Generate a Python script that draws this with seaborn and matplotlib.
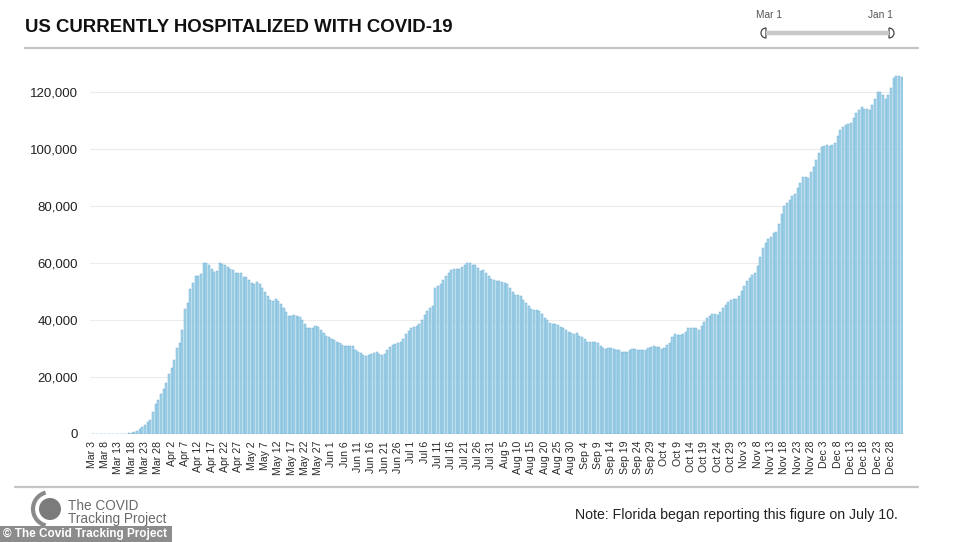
import numpy as np
import pandas as pd
import matplotlib
matplotlib.use("Agg")
import matplotlib.pyplot as plt
import matplotlib.patches as mpatches
import seaborn as sns

# ── data: currently hospitalized (Mar 3 → Jan 1) ─────────────────────────────
mar = [0, 0, 0, 0, 0, 0, 0, 0, 0, 0, 0, 0, 0, 0,
       300, 500, 800, 1200, 1800, 2300, 3000, 4100, 4900, 7600, 10600, 12000,
       14200, 15800, 18000]
apr = [21000, 23000, 26000, 30000, 32000, 36400, 44000, 46000, 51000, 53000,
       55500, 55500, 56000, 59800, 60000, 59400, 58000, 56700, 57000, 60000,
       59500, 59300, 58600, 57700, 57400, 56300, 56300, 56300, 55000, 54900]
may = [53900, 53000, 52600, 53200, 52600, 51200, 49700, 48300, 46900, 46800,
       47400, 46500, 45700, 44200, 42700, 41500, 41500, 41800, 41500, 41000,
       39900, 38700, 37300, 37300, 37300, 37800, 37500, 36600, 35400, 34300,
       34000]
jun = [33300, 33100, 32400, 31900, 31300, 31000, 30800, 30800, 30800, 29600,
       28900, 28400, 27800, 27500, 27700, 28200, 28400, 28700, 28000, 27700,
       28200, 29400, 30500, 31300, 31600, 31900, 32400, 33300, 34900, 36100]
jul = [37100, 37500, 38000, 38700, 40100, 41900, 43000, 44200, 44800, 51200,
       51800, 52600, 53900, 55500, 56500, 57400, 57700, 57700, 58000, 58600,
       59300, 59800, 59800, 59400, 59100, 58200, 57100, 57400, 56500, 55500,
       54400]
aug = [53900, 53600, 53600, 53200, 53000, 52500, 51200, 49700, 48900, 48700,
       48300, 47100, 46000, 44800, 43900, 43600, 43600, 43300, 42200, 40700,
       39900, 38900, 38700, 38700, 38400, 37400, 37000, 36400, 35700, 35400,
       35200]
sep = [35400, 34500, 34000, 33300, 32400, 32200, 32200, 32400, 31900, 31000,
       30200, 29900, 30100, 30200, 29900, 29600, 29400, 28900, 28700, 28900,
       29600, 29900, 29900, 29600, 29600, 29600, 29600, 30000, 30600, 30900]
oct_ = [30600, 30400, 29800, 30000, 31200, 32000, 33900, 34900, 34600, 34700,
        35100, 35900, 37100, 37300, 37300, 37200, 36500, 37700, 39400, 40600,
        41500, 42100, 42100, 41800, 42800, 44100, 45300, 46200, 47000, 47500,
        47500]
nov = [48400, 50200, 51900, 53500, 54600, 55600, 56600, 58900, 61900, 65100,
       67100, 68300, 69200, 70400, 71000, 73700, 77200, 79800, 80900, 82100,
       83300, 84200, 86200, 88000, 90100, 90300, 89700, 92000, 93600, 96100]
dec = [98700, 100600, 101100, 101400, 101100, 101400, 102200, 104600, 106700,
       107600, 108400, 108700, 109200, 110800, 112700, 113500, 114600, 113900,
       114000, 113700, 115400, 117400, 120100, 120100, 118900, 117400, 118900,
       121300, 124800, 125400, 125600]
jan = [125100]

hospitalized = mar + apr + may + jun + jul + aug + sep + oct_ + nov + dec + jan
dates = pd.date_range("2020-03-03", periods=len(hospitalized), freq="D")
day_labels = [f"{d:%b} {d.day}" for d in dates]
y_ticks = [0, 20000, 40000, 60000, 80000, 100000, 120000]

df = pd.DataFrame({"day": day_labels, "hospitalized": hospitalized})

# ── style ────────────────────────────────────────────────────────────────────
sns.set_style("white")
plt.rcParams["font.family"] = ["Liberation Sans", "DejaVu Sans"]

W, H = 962, 542
fig = plt.figure(figsize=(W / 100, H / 100), dpi=100)
fig.patch.set_facecolor("white")

# main plot area (pixel box ~ x 90..903, y 69..434)
ax = fig.add_axes([90.4 / W, 1 - 434 / H, 812.5 / W, 365 / H])
sns.barplot(data=df, x="day", y="hospitalized", color="#a6d4ea",
            edgecolor="#6fb0d2", linewidth=0.35, width=0.78, saturation=1,
            errorbar=None, ax=ax)

ax.set_ylim(0, 128000)
ax.set_xlim(-0.5, len(hospitalized) - 0.5)
ax.set_yticks(y_ticks)
ax.set_yticklabels([f"{v:,}" for v in y_ticks], fontsize=9.5, color="#222222")
ax.set_xticks(range(0, len(day_labels), 5))
ax.set_xticklabels(day_labels[::5], rotation=90, fontsize=7.6, color="#2a2a2a")
ax.tick_params(axis="y", length=0, pad=9)
ax.tick_params(axis="x", length=0, pad=5)
ax.set_xlabel("")
ax.set_ylabel("")
ax.yaxis.grid(True, color="#ececec", linewidth=0.8)
ax.set_axisbelow(True)
sns.despine(ax=ax, left=True, bottom=True)

# ── overlay in pixel coordinates for header / footer decorations ───────────
ov = fig.add_axes([0, 0, 1, 1], zorder=5)
ov.set_xlim(0, W)
ov.set_ylim(H, 0)
ov.axis("off")
ov.patch.set_alpha(0)

ov.text(25, 28, "US CURRENTLY HOSPITALIZED WITH COVID-19", fontsize=13.4,
        fontweight="bold", color="#111111", va="center", ha="left")
ov.plot([25, 918], [48, 48], color="#c4c4c4", lw=1.6)
ov.plot([15, 918], [487, 487], color="#c4c4c4", lw=1.6)

# date range slider
ov.text(769, 15, "Mar 1", fontsize=7.3, color="#555555", ha="center", va="center")
ov.text(880, 15, "Jan 1", fontsize=7.3, color="#555555", ha="center", va="center")
ov.plot([766, 889], [33, 33], color="#c8c8c8", lw=3.2, solid_capstyle="butt")
ov.add_patch(mpatches.Wedge((766, 33), 5, 90, 270, facecolor="white",
                            edgecolor="#444444", lw=0.9))
ov.add_patch(mpatches.Wedge((889, 33), 5, -90, 90, facecolor="white",
                            edgecolor="#444444", lw=0.9))

# footer logo + credits
ov.add_patch(mpatches.Circle((50, 509), 11, facecolor="#7b7b7b", edgecolor="none"))
ov.add_patch(mpatches.Arc((50, 509), 34, 34, theta1=105, theta2=255,
                          color="#8a8a8a", lw=3))
ov.text(68, 506, "The COVID", fontsize=9.8, color="#6a6a6a", va="center")
ov.text(68, 519, "Tracking Project", fontsize=9.8, color="#6a6a6a", va="center")
ov.add_patch(mpatches.Rectangle((0, 526), 172, 16, facecolor="#8c8c8c",
                                edgecolor="none"))
ov.text(3, 534, "© The Covid Tracking Project", fontsize=8.5, color="white",
        fontweight="bold", va="center")

ov.text(898, 515, "Note: Florida began reporting this figure on July 10.",
        fontsize=10.2, color="#222222", ha="right", va="center")

fig.savefig("out.png", dpi=100, facecolor="white")
